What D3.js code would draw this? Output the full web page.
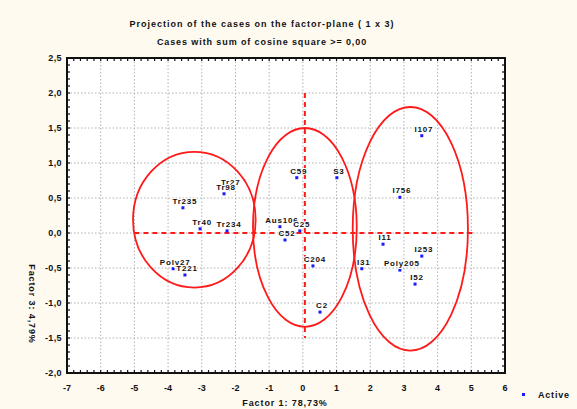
<!DOCTYPE html>
<html>
<head>
<meta charset="utf-8">
<script src="https://cdn.jsdelivr.net/npm/d3@7"></script>
<style>
  html, body { margin: 0; padding: 0; background: #fffaf0; }
  svg { display: block; }
  text { font-family: "Liberation Sans", Arial, sans-serif; fill: #111; }
</style>
</head>
<body>
<svg id="chart" width="577" height="409"></svg>
<script>
// Case scores on factor 1 and factor 3
const caseNames = ["Tr235", "Tr27", "Tr98", "Tr40", "Tr234", "Poly27", "T221",
  "C59", "S3", "Aus106", "C25", "C52", "C204", "C2",
  "I107", "I756", "I11", "I253", "Poly205", "I52", "I31"];
const factor1 = [-3.56, -2.2, -2.34, -3.05, -2.25, -3.85, -3.5,
  -0.18, 1.01, -0.68, -0.09, -0.53, 0.3, 0.51,
  3.53, 2.88, 2.38, 3.53, 2.88, 3.33, 1.75];
const factor3 = [0.36, 0.63, 0.56, 0.06, 0.03, -0.51, -0.6,
  0.79, 0.79, 0.09, 0.03, -0.1, -0.47, -1.13,
  1.39, 0.51, -0.16, -0.33, -0.53, -0.73, -0.51];

// Groups outlined by ellipses (centre and radii in factor units)
const groupCx = [-3.22, 0.06, 3.19];
const groupCy = [0.19, 0.08, 0.06];
const groupRx = [1.82, 1.54, 1.71];
const groupRy = [0.97, 1.42, 1.74];

// Axis ticks
const xTicks = d3.range(-7, 7, 1);
const yTicks = d3.range(-2, 2.51, 0.5);
const xMinor = d3.range(-7, 6.001, 0.2);
const yMinor = d3.range(-2, 2.501, 0.1);

const titleLines = ["Projection of the cases on the factor-plane ( 1 x  3)",
  "Cases with sum of cosine square >= 0,00"];
const xTitle = "Factor 1: 78,73%";
const yTitle = "Factor 3: 4,79%";
const legendLabel = "Active";

const svg = d3.select("#chart");
const x = d3.scaleLinear().domain([-7, 6]).range([67, 505]);
const y = d3.scaleLinear().domain([-2, 2.5]).range([373, 58]);
const fmt = v => d3.format(".1f")(v).replace(".", ",").replace("−", "-");

// plot area
svg.append("rect")
  .attr("x", x(-7)).attr("y", y(2.5))
  .attr("width", x(6) - x(-7)).attr("height", y(-2) - y(2.5))
  .attr("fill", "#fff");

// dotted grid
const grid = svg.append("g").attr("stroke", "#b0b0b0").attr("stroke-width", 1)
  .attr("stroke-dasharray", "1.5,2");
grid.selectAll(".gx").data(xTicks.slice(1)).join("line")
  .attr("x1", d => x(d)).attr("x2", d => x(d))
  .attr("y1", y(2.5)).attr("y2", y(-2));
grid.selectAll(".gy").data(yTicks.slice(1, -1)).join("line")
  .attr("x1", x(-7)).attr("x2", x(6))
  .attr("y1", d => y(d)).attr("y2", d => y(d));

// red dashed reference axes
const ref = svg.append("g").attr("stroke", "#ff1a1a").attr("stroke-width", 2)
  .attr("stroke-dasharray", "5,4").attr("fill", "none");
ref.append("line").attr("x1", x(0.06)).attr("x2", x(0.06)).attr("y1", y(2)).attr("y2", y(-1.5));
ref.append("line").attr("x1", x(-5)).attr("x2", x(5.1)).attr("y1", y(0)).attr("y2", y(0));

// group ellipses
svg.append("g").selectAll("ellipse").data(groupCx).join("ellipse")
  .attr("cx", d => x(d))
  .attr("cy", (d, i) => y(groupCy[i]))
  .attr("rx", (d, i) => x(d + groupRx[i]) - x(d))
  .attr("ry", (d, i) => y(groupCy[i]) - y(groupCy[i] + groupRy[i]))
  .attr("fill", "none").attr("stroke", "#ff1a1a").attr("stroke-width", 1.8);

// frame with inside ticks
const frame = svg.append("g").attr("stroke", "#111").attr("stroke-width", 1.2);
frame.selectAll(".tb").data(xMinor).join("line")
  .attr("x1", d => x(d)).attr("x2", d => x(d))
  .attr("y1", y(-2)).attr("y2", y(-2) - 3);
frame.selectAll(".tt").data(xMinor).join("line")
  .attr("x1", d => x(d)).attr("x2", d => x(d))
  .attr("y1", y(2.5)).attr("y2", y(2.5) + 3);
frame.selectAll(".tl").data(yMinor).join("line")
  .attr("x1", x(-7)).attr("x2", x(-7) + 3)
  .attr("y1", d => y(d)).attr("y2", d => y(d));
frame.selectAll(".tr").data(yMinor).join("line")
  .attr("x1", x(6)).attr("x2", x(6) - 3)
  .attr("y1", d => y(d)).attr("y2", d => y(d));
svg.append("rect")
  .attr("x", x(-7)).attr("y", y(2.5))
  .attr("width", x(6) - x(-7)).attr("height", y(-2) - y(2.5))
  .attr("fill", "none").attr("stroke", "#111").attr("stroke-width", 2);

// tick labels
svg.append("g").selectAll("text").data(xTicks).join("text")
  .attr("x", d => x(d)).attr("y", 391)
  .attr("text-anchor", "middle").attr("font-size", 9).attr("font-weight", "bold")
  .text(d => String(d).replace("−", "-"));
svg.append("g").selectAll("text").data(yTicks).join("text")
  .attr("x", 62).attr("y", d => y(d) + 3)
  .attr("text-anchor", "end").attr("font-size", 9).attr("font-weight", "bold")
  .attr("letter-spacing", 0.4)
  .text(fmt);

// axis titles
svg.append("text").attr("x", 285).attr("y", 406)
  .attr("text-anchor", "middle").attr("font-size", 9).attr("font-weight", "bold")
  .attr("letter-spacing", 0.9).text(xTitle);
svg.append("text").attr("transform", "translate(29,304) rotate(90)")
  .attr("text-anchor", "middle").attr("font-size", 9).attr("font-weight", "bold")
  .attr("letter-spacing", 0.9).text(yTitle);

// title
svg.append("g").selectAll("text").data(titleLines).join("text")
  .attr("x", 262).attr("y", (d, i) => 27 + i * 18)
  .attr("text-anchor", "middle").attr("font-size", 9).attr("font-weight", "bold")
  .attr("letter-spacing", (d, i) => i === 0 ? 1.0 : 0.9).text(d => d);

// case points and labels
const pts = svg.append("g");
pts.selectAll("rect").data(caseNames).join("rect")
  .attr("x", (d, i) => x(factor1[i]) - 1.5)
  .attr("y", (d, i) => y(factor3[i]) - 1.5)
  .attr("width", 3).attr("height", 3).attr("fill", "#1a1aff");
pts.selectAll("text").data(caseNames).join("text")
  .attr("x", (d, i) => x(factor1[i]) + 2)
  .attr("y", (d, i) => y(factor3[i]) - 4)
  .attr("text-anchor", "middle").attr("font-size", 8).attr("font-weight", "bold")
  .attr("letter-spacing", 0.8)
  .attr("stroke", "#fff").attr("stroke-width", 2).attr("paint-order", "stroke")
  .text(d => d);

// legend
svg.append("rect").attr("x", 522).attr("y", 393).attr("width", 3).attr("height", 3).attr("fill", "#1a1aff");
svg.append("text").attr("x", 538).attr("y", 398).attr("font-size", 9).attr("font-weight", "bold")
  .attr("letter-spacing", 0.8).text(legendLabel);
</script>
</body>
</html>
